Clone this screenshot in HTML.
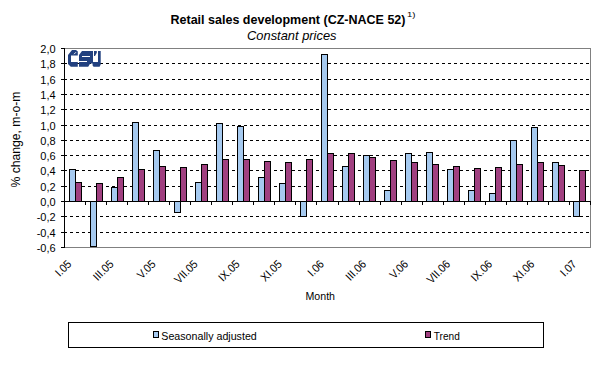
<!DOCTYPE html>
<html><head><meta charset="utf-8"><style>
html,body{margin:0;padding:0;background:#fff;}
svg{display:block;font-family:"Liberation Sans", sans-serif;}
</style></head><body>
<svg width="595" height="367" viewBox="0 0 595 367" shape-rendering="crispEdges">
<rect width="595" height="367" fill="#fff"/>
<line x1="64" y1="63.5" x2="590" y2="63.5" stroke="#000" stroke-dasharray="3 3"/>
<line x1="64" y1="79.5" x2="590" y2="79.5" stroke="#000" stroke-dasharray="3 3"/>
<line x1="64" y1="94.5" x2="590" y2="94.5" stroke="#000" stroke-dasharray="3 3"/>
<line x1="64" y1="109.5" x2="590" y2="109.5" stroke="#000" stroke-dasharray="3 3"/>
<line x1="64" y1="125.5" x2="590" y2="125.5" stroke="#000" stroke-dasharray="3 3"/>
<line x1="64" y1="140.5" x2="590" y2="140.5" stroke="#000" stroke-dasharray="3 3"/>
<line x1="64" y1="155.5" x2="590" y2="155.5" stroke="#000" stroke-dasharray="3 3"/>
<line x1="64" y1="170.5" x2="590" y2="170.5" stroke="#000" stroke-dasharray="3 3"/>
<line x1="64" y1="186.5" x2="590" y2="186.5" stroke="#000" stroke-dasharray="3 3"/>
<line x1="64" y1="216.5" x2="590" y2="216.5" stroke="#000" stroke-dasharray="3 3"/>
<line x1="64" y1="232.5" x2="590" y2="232.5" stroke="#000" stroke-dasharray="3 3"/>
<path d="M65 48.5H590.5V247.5H65" fill="none" stroke="#808080"/>
<rect x="69.5" y="169.5" width="6" height="32" fill="#a6caf0" stroke="#000"/>
<rect x="75.5" y="182.5" width="6" height="19" fill="#a04080" stroke="#000"/>
<rect x="90.5" y="201.5" width="6" height="45" fill="#a6caf0" stroke="#000"/>
<rect x="96.5" y="183.5" width="6" height="18" fill="#a04080" stroke="#000"/>
<rect x="111.5" y="187.5" width="6" height="14" fill="#a6caf0" stroke="#000"/>
<rect x="117.5" y="177.5" width="6" height="24" fill="#a04080" stroke="#000"/>
<rect x="132.5" y="122.5" width="6" height="79" fill="#a6caf0" stroke="#000"/>
<rect x="138.5" y="169.5" width="6" height="32" fill="#a04080" stroke="#000"/>
<rect x="153.5" y="150.5" width="6" height="51" fill="#a6caf0" stroke="#000"/>
<rect x="159.5" y="166.5" width="6" height="35" fill="#a04080" stroke="#000"/>
<rect x="174.5" y="201.5" width="6" height="11" fill="#a6caf0" stroke="#000"/>
<rect x="180.5" y="167.5" width="6" height="34" fill="#a04080" stroke="#000"/>
<rect x="195.5" y="182.5" width="6" height="19" fill="#a6caf0" stroke="#000"/>
<rect x="201.5" y="164.5" width="6" height="37" fill="#a04080" stroke="#000"/>
<rect x="216.5" y="123.5" width="6" height="78" fill="#a6caf0" stroke="#000"/>
<rect x="222.5" y="159.5" width="6" height="42" fill="#a04080" stroke="#000"/>
<rect x="237.5" y="126.5" width="6" height="75" fill="#a6caf0" stroke="#000"/>
<rect x="243.5" y="159.5" width="6" height="42" fill="#a04080" stroke="#000"/>
<rect x="258.5" y="177.5" width="6" height="24" fill="#a6caf0" stroke="#000"/>
<rect x="264.5" y="161.5" width="6" height="40" fill="#a04080" stroke="#000"/>
<rect x="279.5" y="183.5" width="6" height="18" fill="#a6caf0" stroke="#000"/>
<rect x="285.5" y="162.5" width="6" height="39" fill="#a04080" stroke="#000"/>
<rect x="300.5" y="201.5" width="6" height="15" fill="#a6caf0" stroke="#000"/>
<rect x="306.5" y="159.5" width="6" height="42" fill="#a04080" stroke="#000"/>
<rect x="321.5" y="54.5" width="6" height="147" fill="#a6caf0" stroke="#000"/>
<rect x="327.5" y="153.5" width="6" height="48" fill="#a04080" stroke="#000"/>
<rect x="342.5" y="166.5" width="6" height="35" fill="#a6caf0" stroke="#000"/>
<rect x="348.5" y="153.5" width="6" height="48" fill="#a04080" stroke="#000"/>
<rect x="363.5" y="155.5" width="6" height="46" fill="#a6caf0" stroke="#000"/>
<rect x="369.5" y="157.5" width="6" height="44" fill="#a04080" stroke="#000"/>
<rect x="384.5" y="190.5" width="6" height="11" fill="#a6caf0" stroke="#000"/>
<rect x="390.5" y="160.5" width="6" height="41" fill="#a04080" stroke="#000"/>
<rect x="405.5" y="153.5" width="6" height="48" fill="#a6caf0" stroke="#000"/>
<rect x="411.5" y="162.5" width="6" height="39" fill="#a04080" stroke="#000"/>
<rect x="426.5" y="152.5" width="6" height="49" fill="#a6caf0" stroke="#000"/>
<rect x="432.5" y="164.5" width="6" height="37" fill="#a04080" stroke="#000"/>
<rect x="447.5" y="169.5" width="6" height="32" fill="#a6caf0" stroke="#000"/>
<rect x="453.5" y="166.5" width="6" height="35" fill="#a04080" stroke="#000"/>
<rect x="468.5" y="190.5" width="6" height="11" fill="#a6caf0" stroke="#000"/>
<rect x="474.5" y="168.5" width="6" height="33" fill="#a04080" stroke="#000"/>
<rect x="489.5" y="193.5" width="6" height="8" fill="#a6caf0" stroke="#000"/>
<rect x="495.5" y="167.5" width="6" height="34" fill="#a04080" stroke="#000"/>
<rect x="510.5" y="140.5" width="6" height="61" fill="#a6caf0" stroke="#000"/>
<rect x="516.5" y="164.5" width="6" height="37" fill="#a04080" stroke="#000"/>
<rect x="531.5" y="127.5" width="6" height="74" fill="#a6caf0" stroke="#000"/>
<rect x="537.5" y="162.5" width="6" height="39" fill="#a04080" stroke="#000"/>
<rect x="552.5" y="162.5" width="6" height="39" fill="#a6caf0" stroke="#000"/>
<rect x="558.5" y="165.5" width="6" height="36" fill="#a04080" stroke="#000"/>
<rect x="573.5" y="201.5" width="6" height="15" fill="#a6caf0" stroke="#000"/>
<rect x="579.5" y="170.5" width="6" height="31" fill="#a04080" stroke="#000"/>
<line x1="64.5" y1="48" x2="64.5" y2="248" stroke="#000"/>
<line x1="61" y1="48.5" x2="65" y2="48.5" stroke="#000"/>
<line x1="61" y1="63.5" x2="67" y2="63.5" stroke="#000"/>
<line x1="61" y1="79.5" x2="67" y2="79.5" stroke="#000"/>
<line x1="61" y1="94.5" x2="67" y2="94.5" stroke="#000"/>
<line x1="61" y1="109.5" x2="67" y2="109.5" stroke="#000"/>
<line x1="61" y1="125.5" x2="67" y2="125.5" stroke="#000"/>
<line x1="61" y1="140.5" x2="67" y2="140.5" stroke="#000"/>
<line x1="61" y1="155.5" x2="67" y2="155.5" stroke="#000"/>
<line x1="61" y1="170.5" x2="67" y2="170.5" stroke="#000"/>
<line x1="61" y1="186.5" x2="67" y2="186.5" stroke="#000"/>
<line x1="61" y1="201.5" x2="67" y2="201.5" stroke="#000"/>
<line x1="61" y1="216.5" x2="67" y2="216.5" stroke="#000"/>
<line x1="61" y1="232.5" x2="67" y2="232.5" stroke="#000"/>
<line x1="61" y1="247.5" x2="65" y2="247.5" stroke="#000"/>
<line x1="64" y1="201.5" x2="591" y2="201.5" stroke="#000"/>
<line x1="64.5" y1="201" x2="64.5" y2="205" stroke="#000"/>
<line x1="85.5" y1="201" x2="85.5" y2="205" stroke="#000"/>
<line x1="106.5" y1="201" x2="106.5" y2="205" stroke="#000"/>
<line x1="127.5" y1="201" x2="127.5" y2="205" stroke="#000"/>
<line x1="148.5" y1="201" x2="148.5" y2="205" stroke="#000"/>
<line x1="169.5" y1="201" x2="169.5" y2="205" stroke="#000"/>
<line x1="190.5" y1="201" x2="190.5" y2="205" stroke="#000"/>
<line x1="211.5" y1="201" x2="211.5" y2="205" stroke="#000"/>
<line x1="232.5" y1="201" x2="232.5" y2="205" stroke="#000"/>
<line x1="253.5" y1="201" x2="253.5" y2="205" stroke="#000"/>
<line x1="274.5" y1="201" x2="274.5" y2="205" stroke="#000"/>
<line x1="295.5" y1="201" x2="295.5" y2="205" stroke="#000"/>
<line x1="316.5" y1="201" x2="316.5" y2="205" stroke="#000"/>
<line x1="338.5" y1="201" x2="338.5" y2="205" stroke="#000"/>
<line x1="359.5" y1="201" x2="359.5" y2="205" stroke="#000"/>
<line x1="380.5" y1="201" x2="380.5" y2="205" stroke="#000"/>
<line x1="401.5" y1="201" x2="401.5" y2="205" stroke="#000"/>
<line x1="422.5" y1="201" x2="422.5" y2="205" stroke="#000"/>
<line x1="443.5" y1="201" x2="443.5" y2="205" stroke="#000"/>
<line x1="464.5" y1="201" x2="464.5" y2="205" stroke="#000"/>
<line x1="485.5" y1="201" x2="485.5" y2="205" stroke="#000"/>
<line x1="506.5" y1="201" x2="506.5" y2="205" stroke="#000"/>
<line x1="527.5" y1="201" x2="527.5" y2="205" stroke="#000"/>
<line x1="548.5" y1="201" x2="548.5" y2="205" stroke="#000"/>
<line x1="569.5" y1="201" x2="569.5" y2="205" stroke="#000"/>
<line x1="590.5" y1="201" x2="590.5" y2="205" stroke="#000"/>
<text x="55.6" y="53" text-anchor="end" font-size="11">2,0</text>
<text x="55.6" y="68" text-anchor="end" font-size="11">1,8</text>
<text x="55.6" y="84" text-anchor="end" font-size="11">1,6</text>
<text x="55.6" y="99" text-anchor="end" font-size="11">1,4</text>
<text x="55.6" y="114" text-anchor="end" font-size="11">1,2</text>
<text x="55.6" y="130" text-anchor="end" font-size="11">1,0</text>
<text x="55.6" y="145" text-anchor="end" font-size="11">0,8</text>
<text x="55.6" y="160" text-anchor="end" font-size="11">0,6</text>
<text x="55.6" y="175" text-anchor="end" font-size="11">0,4</text>
<text x="55.6" y="191" text-anchor="end" font-size="11">0,2</text>
<text x="55.6" y="206" text-anchor="end" font-size="11">0,0</text>
<text x="55.6" y="221" text-anchor="end" font-size="11">-0,2</text>
<text x="55.6" y="237" text-anchor="end" font-size="11">-0,4</text>
<text x="55.6" y="252" text-anchor="end" font-size="11">-0,6</text>
<text transform="translate(72.2,264.8) rotate(-45)" text-anchor="end" font-size="11.5" textLength="17.6" lengthAdjust="spacingAndGlyphs">I.05</text>
<text transform="translate(114.3,264.8) rotate(-45)" text-anchor="end" font-size="11.5" textLength="23.5" lengthAdjust="spacingAndGlyphs">III.05</text>
<text transform="translate(156.4,264.8) rotate(-45)" text-anchor="end" font-size="11.5" textLength="20.8" lengthAdjust="spacingAndGlyphs">V.05</text>
<text transform="translate(198.5,264.8) rotate(-45)" text-anchor="end" font-size="11.5" textLength="27.6" lengthAdjust="spacingAndGlyphs">VII.05</text>
<text transform="translate(240.5,264.8) rotate(-45)" text-anchor="end" font-size="11.5" textLength="24.7" lengthAdjust="spacingAndGlyphs">IX.05</text>
<text transform="translate(282.6,264.8) rotate(-45)" text-anchor="end" font-size="11.5" textLength="24.7" lengthAdjust="spacingAndGlyphs">XI.05</text>
<text transform="translate(324.7,264.8) rotate(-45)" text-anchor="end" font-size="11.5" textLength="17.6" lengthAdjust="spacingAndGlyphs">I.06</text>
<text transform="translate(366.8,264.8) rotate(-45)" text-anchor="end" font-size="11.5" textLength="23.5" lengthAdjust="spacingAndGlyphs">III.06</text>
<text transform="translate(408.9,264.8) rotate(-45)" text-anchor="end" font-size="11.5" textLength="20.8" lengthAdjust="spacingAndGlyphs">V.06</text>
<text transform="translate(450.9,264.8) rotate(-45)" text-anchor="end" font-size="11.5" textLength="27.6" lengthAdjust="spacingAndGlyphs">VII.06</text>
<text transform="translate(493.0,264.8) rotate(-45)" text-anchor="end" font-size="11.5" textLength="24.7" lengthAdjust="spacingAndGlyphs">IX.06</text>
<text transform="translate(535.1,264.8) rotate(-45)" text-anchor="end" font-size="11.5" textLength="24.7" lengthAdjust="spacingAndGlyphs">XI.06</text>
<text transform="translate(577.2,264.8) rotate(-45)" text-anchor="end" font-size="11.5" textLength="17.6" lengthAdjust="spacingAndGlyphs">I.07</text>
<text x="170.5" y="23.5" font-size="13.5" font-weight="bold" textLength="235" lengthAdjust="spacingAndGlyphs">Retail sales development (CZ-NACE 52)</text>
<text x="407" y="16.6" font-size="8" textLength="8.5" lengthAdjust="spacingAndGlyphs">1)</text>
<text x="247" y="40" font-size="13.5" font-style="italic" textLength="89.5" lengthAdjust="spacingAndGlyphs">Constant prices</text>
<text transform="translate(20,139.5) rotate(-90)" text-anchor="middle" font-size="12" textLength="96" lengthAdjust="spacingAndGlyphs">% change, m-o-m</text>
<text x="305.5" y="300" font-size="11" textLength="29.5" lengthAdjust="spacingAndGlyphs">Month</text>
<rect x="68.5" y="322.5" width="475" height="25" fill="none" stroke="#000"/>
<rect x="153.5" y="331.5" width="5" height="6" fill="#a6caf0" stroke="#000"/>
<text x="161.3" y="340" font-size="11" textLength="95.5" lengthAdjust="spacingAndGlyphs">Seasonally adjusted</text>
<rect x="425.5" y="331.5" width="5" height="6" fill="#a04080" stroke="#000"/>
<text x="433.8" y="340" font-size="11" textLength="26" lengthAdjust="spacingAndGlyphs">Trend</text>
<g fill="#21407f" shape-rendering="geometricPrecision">
<path d="M72 50H76L77.8 51.5V55.6H71V62H77.8V66.8H70.8L68 64V55Z"/>
<path d="M82 51H93V63.5H90.2L88.2 66.8H79V55Z"/>
<path d="M94 51H96.8V52.8L95 56H94Z"/>
<path d="M98 51H100.7V64.5L99.6 66.8H93.6L92.6 65.6V62H98Z"/>
</g>
<g fill="#fff"><rect x="81.8" y="56" width="8.2" height="1"/><rect x="79" y="61" width="8" height="1"/></g>
<path d="M74 54.2L76 52.2" stroke="#fff" stroke-width="0.9" shape-rendering="geometricPrecision"/>
</svg>
</body></html>
